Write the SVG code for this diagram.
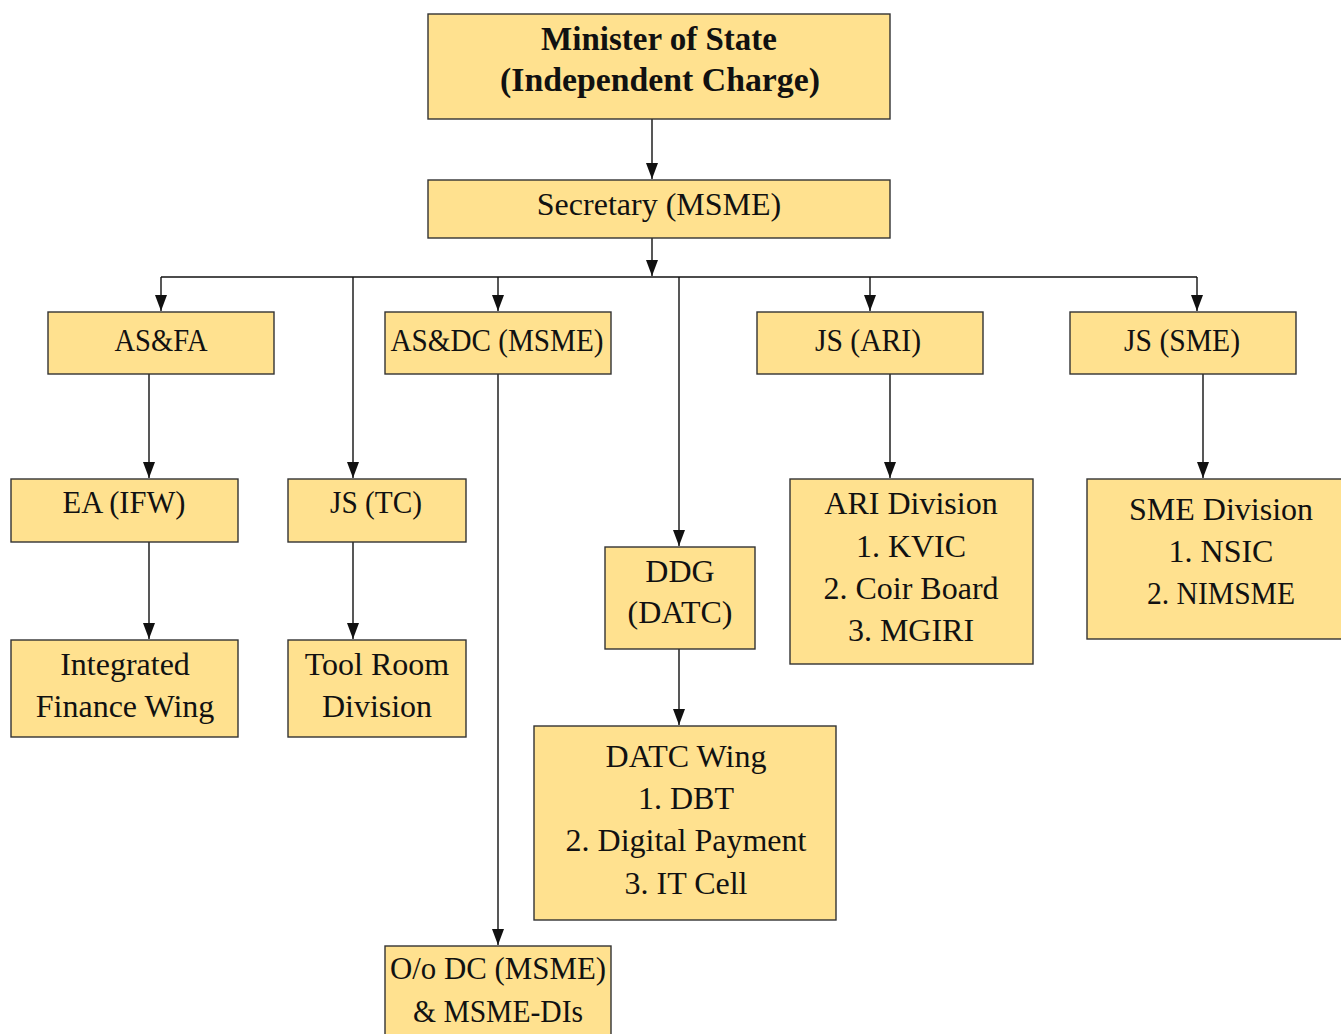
<svg xmlns="http://www.w3.org/2000/svg" width="1341" height="1034" viewBox="0 0 1341 1034">
<style>
.box{fill:#FFE18F;stroke:#333333;stroke-width:1.4}
.t{font-family:"Liberation Serif","Times New Roman",serif;font-size:32px;fill:#111111;text-anchor:middle}
.b{font-weight:bold;font-size:33px}
.c{fill:none;stroke:#111111;stroke-width:1.4}
</style>
<defs>
<marker id="ah" markerUnits="userSpaceOnUse" markerWidth="16" markerHeight="12" refX="16" refY="6" orient="auto">
<path d="M0,0 L16,6 L0,12 z" fill="#111111"/>
</marker>
</defs>
<rect width="1341" height="1034" fill="#ffffff"/>
<g id="connectors">
<line class="c" x1="652" y1="119" x2="652" y2="179" marker-end="url(#ah)"/>
<line class="c" x1="652" y1="238" x2="652" y2="276" marker-end="url(#ah)"/>
<line class="c" x1="161" y1="277" x2="1197" y2="277"/>
<line class="c" x1="161" y1="277" x2="161" y2="311" marker-end="url(#ah)"/>
<line class="c" x1="353" y1="277" x2="353" y2="478" marker-end="url(#ah)"/>
<line class="c" x1="498" y1="277" x2="498" y2="311" marker-end="url(#ah)"/>
<line class="c" x1="679" y1="277" x2="679" y2="546" marker-end="url(#ah)"/>
<line class="c" x1="870" y1="277" x2="870" y2="311" marker-end="url(#ah)"/>
<line class="c" x1="1197" y1="277" x2="1197" y2="311" marker-end="url(#ah)"/>
<line class="c" x1="149" y1="374" x2="149" y2="478" marker-end="url(#ah)"/>
<line class="c" x1="149" y1="542" x2="149" y2="639" marker-end="url(#ah)"/>
<line class="c" x1="353" y1="542" x2="353" y2="639" marker-end="url(#ah)"/>
<line class="c" x1="498" y1="374" x2="498" y2="945" marker-end="url(#ah)"/>
<line class="c" x1="679" y1="649" x2="679" y2="725" marker-end="url(#ah)"/>
<line class="c" x1="890" y1="374" x2="890" y2="478" marker-end="url(#ah)"/>
<line class="c" x1="1203" y1="374" x2="1203" y2="478" marker-end="url(#ah)"/>
</g>
<g id="minister">
<rect class="box" x="428" y="14" width="462" height="105"/>
<text class="t b" x="659" y="50">Minister of State</text>
<text class="t b" x="660" y="91" textLength="320" lengthAdjust="spacingAndGlyphs">(Independent Charge)</text>
</g>
<g id="secretary">
<rect class="box" x="428" y="180" width="462" height="58"/>
<text class="t" x="659" y="215">Secretary (MSME)</text>
</g>
<g id="asfa">
<rect class="box" x="48" y="312" width="226" height="62"/>
<text class="t" x="161" y="351" textLength="93" lengthAdjust="spacingAndGlyphs">AS&amp;FA</text>
</g>
<g id="asdc">
<rect class="box" x="385" y="312" width="226" height="62"/>
<text class="t" x="497" y="351" textLength="213" lengthAdjust="spacingAndGlyphs">AS&amp;DC (MSME)</text>
</g>
<g id="js-ari">
<rect class="box" x="757" y="312" width="226" height="62"/>
<text class="t" x="868" y="351" textLength="106" lengthAdjust="spacingAndGlyphs">JS (ARI)</text>
</g>
<g id="js-sme">
<rect class="box" x="1070" y="312" width="226" height="62"/>
<text class="t" x="1182" y="351" textLength="116" lengthAdjust="spacingAndGlyphs">JS (SME)</text>
</g>
<g id="ea-ifw">
<rect class="box" x="11" y="479" width="227" height="63"/>
<text class="t" x="124" y="513" textLength="123" lengthAdjust="spacingAndGlyphs">EA (IFW)</text>
</g>
<g id="js-tc">
<rect class="box" x="288" y="479" width="178" height="63"/>
<text class="t" x="376" y="513" textLength="92" lengthAdjust="spacingAndGlyphs">JS (TC)</text>
</g>
<g id="ifw">
<rect class="box" x="11" y="640" width="227" height="97"/>
<text class="t" x="125" y="675">Integrated</text>
<text class="t" x="125" y="717">Finance Wing</text>
</g>
<g id="tool-room">
<rect class="box" x="288" y="640" width="178" height="97"/>
<text class="t" x="377" y="675">Tool Room</text>
<text class="t" x="377" y="717">Division</text>
</g>
<g id="ddg">
<rect class="box" x="605" y="547" width="150" height="102"/>
<text class="t" x="680" y="582">DDG</text>
<text class="t" x="680" y="623">(DATC)</text>
</g>
<g id="datc-wing">
<rect class="box" x="534" y="726" width="302" height="194"/>
<text class="t" x="686" y="767">DATC Wing</text>
<text class="t" x="686" y="809">1. DBT</text>
<text class="t" x="686" y="851">2. Digital Payment</text>
<text class="t" x="686" y="894">3. IT Cell</text>
</g>
<g id="ari-division">
<rect class="box" x="790" y="479" width="243" height="185"/>
<text class="t" x="911" y="514">ARI Division</text>
<text class="t" x="911" y="557">1. KVIC</text>
<text class="t" x="911" y="599">2. Coir Board</text>
<text class="t" x="911" y="641">3. MGIRI</text>
</g>
<g id="sme-division">
<rect class="box" x="1087" y="479" width="260" height="160"/>
<text class="t" x="1221" y="520">SME Division</text>
<text class="t" x="1221" y="562">1. NSIC</text>
<text class="t" x="1221" y="604" textLength="148" lengthAdjust="spacingAndGlyphs">2. NIMSME</text>
</g>
<g id="dc-msme">
<rect class="box" x="385" y="946" width="226" height="100"/>
<text class="t" x="498" y="979" textLength="216" lengthAdjust="spacingAndGlyphs">O/o DC (MSME)</text>
<text class="t" x="498" y="1022" textLength="170" lengthAdjust="spacingAndGlyphs">&amp; MSME-DIs</text>
</g>
</svg>
